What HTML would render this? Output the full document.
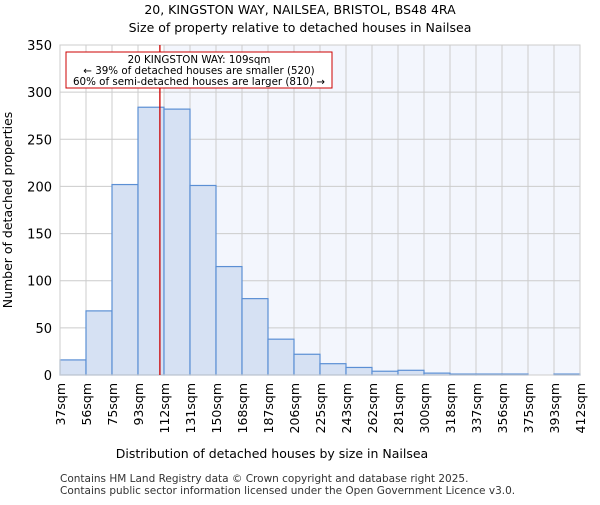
<!DOCTYPE html>
<html><head><meta charset="utf-8"><style>
body{margin:0;background:#fff;font-family:"Liberation Sans","DejaVu Sans",sans-serif}
</style></head><body>
<svg width="600" height="500" xmlns="http://www.w3.org/2000/svg" font-family="DejaVu Sans, Liberation Sans, sans-serif">
<text x="300" y="14" text-anchor="middle" font-size="12.5">20, KINGSTON WAY, NAILSEA, BRISTOL, BS48 4RA</text>
<text x="300" y="32" text-anchor="middle" font-size="12.5">Size of property relative to detached houses in Nailsea</text>
<g id="plot"></g>
<text x="272" y="458" text-anchor="middle" font-size="12.5">Distribution of detached houses by size in Nailsea</text>
<text transform="translate(12,210) rotate(-90)" text-anchor="middle" font-size="12.5">Number of detached properties</text>
<text x="60" y="482" font-size="10.5" fill="#333">Contains HM Land Registry data © Crown copyright and database right 2025.</text>
<text x="60" y="494" font-size="10.5" fill="#333">Contains public sector information licensed under the Open Government Licence v3.0.</text>
</svg>
<script>
const binLabels=["37sqm","56sqm","75sqm","93sqm","112sqm","131sqm","150sqm","168sqm","187sqm","206sqm","225sqm","243sqm","262sqm","281sqm","300sqm","318sqm","337sqm","356sqm","375sqm","393sqm","412sqm"];
const binEdges=[37,56,75,93,112,131,150,168,187,206,225,243,262,281,300,318,337,356,375,393,412];
const counts=[16,68,202,284,282,201,115,81,38,22,12,8,4,5,2,1,1,1,0,1];
const yTicks=[0,50,100,150,200,250,300,350];
const propertySize=109;
const NS="http://www.w3.org/2000/svg";
const L=60,R=580,T=45,B=375,yMax=350,n=counts.length;
const bw=(R-L)/n;
const xi=i=>L+i*bw;
const xv=v=>{for(let i=0;i<n;i++){if(v<=binEdges[i+1])return xi(i)+(v-binEdges[i])/(binEdges[i+1]-binEdges[i])*bw;}return R;};
const y=v=>B-v/yMax*(B-T);
const g=document.getElementById('plot');
function mk(t,a){const e=document.createElementNS(NS,t);for(const k in a)e.setAttribute(k,a[k]);g.appendChild(e);return e;}
const bg=mk('rect',{x:L,y:T,width:R-L,height:B-T,fill:'#fff'});


const hb=mk('rect',{x:xi(4),y:T,width:R-xi(4),height:B-T,fill:'#f3f6fd'});


yTicks.forEach(t=>{
 const l=mk('line',{x1:L,x2:R,y1:y(t),y2:y(t),stroke:'#ccc','stroke-width':1});
 
 
 const tx=mk('text',{x:L-8,y:y(t)+5,'text-anchor':'end','font-size':13});
 tx.textContent=t;
 
 
});
binLabels.forEach((lab,i)=>{
 const l=mk('line',{x1:xi(i),x2:xi(i),y1:T,y2:B,stroke:'#ccc','stroke-width':1});
 
 
 const tx=mk('text',{transform:`translate(${xi(i)+5},${B+8}) rotate(-90)`,'text-anchor':'end','font-size':12.5});
 tx.textContent=lab;
 
 
});
counts.forEach((c,i)=>{
 const r=mk('rect',{x:xi(i),y:y(c),width:bw,height:B-y(c),fill:'#d6e1f3',stroke:'#5b8fd4','stroke-width':1.2});
 
 
});
const fr=mk('rect',{x:L,y:T,width:R-L,height:B-T,fill:'none',stroke:'#ccc'});


const px=xv(propertySize);
const ml=mk('line',{x1:px,x2:px,y1:T,y2:B,stroke:'#cc0000','stroke-width':1.3});


const box=mk('rect',{x:66,y:52,width:266,height:36,fill:'#fff',stroke:'#cc0000','stroke-width':1});


["20 KINGSTON WAY: 109sqm","← 39% of detached houses are smaller (520)","60% of semi-detached houses are larger (810) →"].forEach((s,k)=>{
 const t=mk('text',{x:199,y:63+k*11,'text-anchor':'middle','font-size':10.3});
 t.textContent=s;
 
 
});
</script>
</body></html>
